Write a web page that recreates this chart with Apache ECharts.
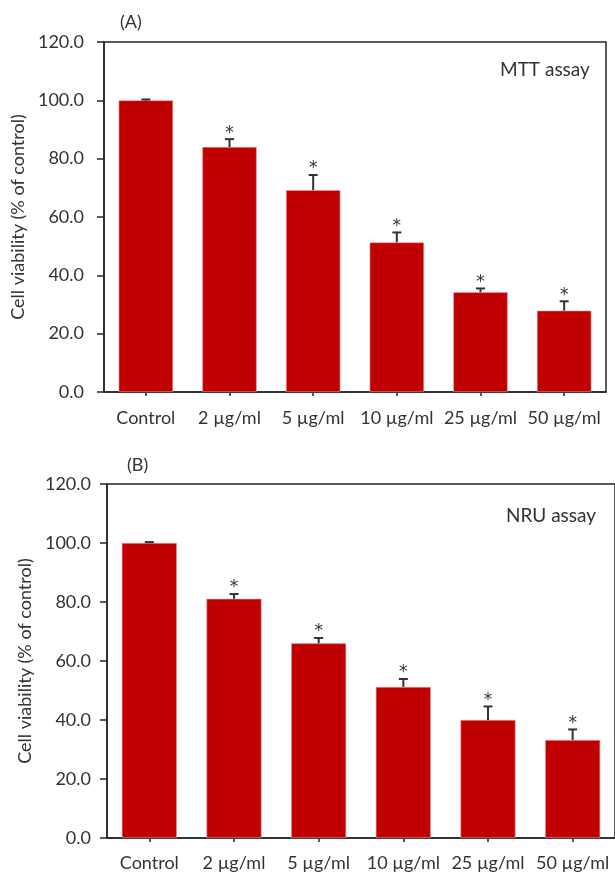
<!DOCTYPE html>
<html>
<head>
<meta charset="utf-8">
<script src="https://cdn.jsdelivr.net/npm/echarts@6/dist/echarts.min.js"></script>
<style>
  html, body { margin: 0; padding: 0; background: #fff; }
  #chart { width: 615px; height: 874px; }
</style>
</head>
<body>
<div id="chart"></div>
<script>
const categories = ['Control', '2 µg/ml', '5 µg/ml', '10 µg/ml', '25 µg/ml', '50 µg/ml'];
const mttValues = [100.0, 84.0, 69.2, 51.3, 34.2, 27.9];
const mttErrors = [0.3, 2.7, 5.2, 3.4, 1.3, 3.2];
const nruValues = [100.0, 81.1, 66.0, 51.2, 40.0, 33.2];
const nruErrors = [0.3, 1.6, 1.8, 2.7, 4.6, 3.6];
const significance = ['', '*', '*', '*', '*', '*'];
const yMin = 0, yMax = 120, yInterval = 20;
const panelLabels = ['(A)', '(B)'];
const assayLabels = ['MTT assay', 'NRU assay'];
const yAxisTitle = 'Cell viability (% of control)';

const FONT = 'Lato';
const TEXT = '#333333';
const AXIS = '#262626';
const BAR = '#C00000';

function errData(values, errors) {
  return values.map((v, i) => [i, v, errors[i]]);
}

function renderErr(params, api) {
  const i = api.value(0);
  const v = api.value(1);
  const e = api.value(2);
  const base = api.coord([i, v]);
  const top = api.coord([i, v + e]);
  const star = significance[params.dataIndex];
  const children = [
    { type: 'line', shape: { x1: base[0], y1: base[1], x2: top[0], y2: top[1] },
      style: { stroke: '#333', lineWidth: 2 } },
    { type: 'line', shape: { x1: top[0] - 4.5, y1: top[1], x2: top[0] + 4.5, y2: top[1] },
      style: { stroke: '#333', lineWidth: 2 } }
  ];
  if (star) {
    children.push({ type: 'text', x: top[0], y: top[1] - 6,
      style: { text: star, fill: '#333', font: '17px "DejaVu Sans"', align: 'center', verticalAlign: 'middle' } });
  }
  return { type: 'group', children };
}

function yAxisFor(gridIndex, labelMargin, nameGap) {
  return {
    type: 'value', gridIndex, min: yMin, max: yMax, interval: yInterval,
    name: yAxisTitle, nameLocation: 'middle', nameGap,
    nameTextStyle: { fontFamily: FONT, fontSize: 18, color: TEXT },
    axisLine: { show: true, lineStyle: { color: AXIS, width: 1.5 } },
    axisTick: { show: true, inside: false, length: 7, lineStyle: { color: AXIS, width: 1.5 } },
    axisLabel: { margin: labelMargin, fontFamily: FONT, fontSize: 18, color: TEXT,
      formatter: v => v.toFixed(1) },
    splitLine: { show: false }
  };
}

function xAxisFor(gridIndex, margin) {
  return {
    type: 'category', gridIndex, data: categories,
    axisLine: { show: true, lineStyle: { color: AXIS, width: 1.5 } },
    axisTick: { show: true, alignWithLabel: true, length: 4, lineStyle: { color: AXIS, width: 1.5 } },
    axisLabel: { margin, fontFamily: FONT, fontSize: 18, color: TEXT, interval: 0 },
    splitLine: { show: false }
  };
}

const titleStyle = { fontFamily: FONT, fontSize: 18, fontWeight: 'normal', color: TEXT };
const chart = echarts.init(document.getElementById('chart'), null, { renderer: 'canvas' });
chart.setOption({
  animation: false,
  backgroundColor: '#fff',
  title: [
    { text: panelLabels[0], left: 115, top: 8, textStyle: titleStyle },
    { text: panelLabels[1], left: 122, top: 451, textStyle: titleStyle },
    { text: assayLabels[0], left: 495, top: 55, textStyle: Object.assign({}, titleStyle, { fontSize: 19 }) },
    { text: assayLabels[1], left: 501, top: 501, textStyle: Object.assign({}, titleStyle, { fontSize: 19 }) }
  ],
  grid: [
    { left: 104, top: 42, width: 502, height: 350, show: true, borderColor: AXIS, borderWidth: 1.5, backgroundColor: 'transparent' },
    { left: 107, top: 484, width: 512, height: 354, show: true, borderColor: '#595959', borderWidth: 2, backgroundColor: 'transparent' }
  ],
  xAxis: [xAxisFor(0, 17), xAxisFor(1, 16)],
  yAxis: [yAxisFor(0, 20, 72), yAxisFor(1, 16, 69)],
  series: [
    { type: 'bar', xAxisIndex: 0, yAxisIndex: 0, data: mttValues, barCategoryGap: '35%',
      itemStyle: { color: BAR, borderColor: '#e8a0a0', borderWidth: 0.6 } },
    { type: 'custom', xAxisIndex: 0, yAxisIndex: 0, data: errData(mttValues, mttErrors),
      renderItem: renderErr, encode: { x: 0, y: 1 }, z: 5 },
    { type: 'bar', xAxisIndex: 1, yAxisIndex: 1, data: nruValues, barCategoryGap: '35%',
      itemStyle: { color: BAR, borderColor: '#e8a0a0', borderWidth: 0.6 } },
    { type: 'custom', xAxisIndex: 1, yAxisIndex: 1, data: errData(nruValues, nruErrors),
      renderItem: renderErr, encode: { x: 0, y: 1 }, z: 5 }
  ]
});
</script>
</body>
</html>
